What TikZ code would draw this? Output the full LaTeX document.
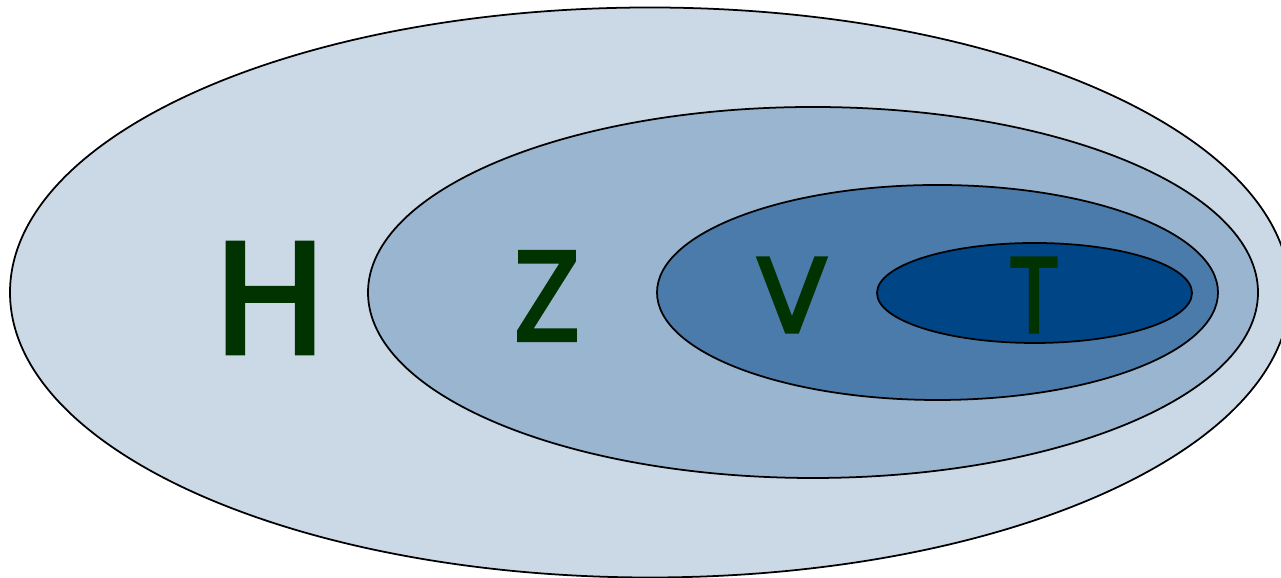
\documentclass[tikz,border=0pt]{standalone}
\usepackage{fontspec}
\setmainfont{DejaVu Sans}
\newfontfamily\lblfont[FakeBold=3]{DejaVu Sans}
\newfontfamily\lblnarrow[FakeBold=3, FakeStretch=0.78]{DejaVu Sans}
\newfontfamily\lblslim[FakeBold=3, FakeStretch=0.70]{DejaVu Sans}
\usepackage{xcolor}
\usepackage{tikz}
\usetikzlibrary{shapes.geometric, positioning}

\definecolor{setH}{HTML}{CBD9E6}
\definecolor{setZ}{HTML}{9AB5D0}
\definecolor{setV}{HTML}{4B7BAA}
\definecolor{setT}{HTML}{004586}
\definecolor{letter}{HTML}{003300}

\begin{document}
\begin{tikzpicture}[
    set/.style={draw=black, ellipse, inner sep=0pt, line width=0.5pt},
    lbl/.style={text=letter, inner sep=0pt}
]
\useasboundingbox (0,0) rectangle (12.81,5.78);

\node[set, fill=setH, minimum width=12.80cm, minimum height=5.70cm] (h) at (6.50,2.855) {};
\node[set, fill=setZ, minimum width=8.90cm, minimum height=3.71cm] (z) at (8.13,2.855) {};
\node[set, fill=setV, minimum width=5.61cm, minimum height=2.15cm] (v) at (9.375,2.855) {};
\node[set, fill=setT, minimum width=3.15cm, minimum height=1.00cm] (t) at (10.345,2.85) {};

\node[lbl, font=\lblfont\fontsize{43}{43}\selectfont] (hl) at (2.70,2.80) {H};
\node[lbl, font=\lblnarrow\fontsize{34.5}{34.5}\selectfont] (zl) at (5.47,2.82) {Z};
\node[lbl, font=\lblfont\fontsize{29}{29}\selectfont] (vl) at (7.92,2.83) {V};
\node[lbl, font=\lblslim\fontsize{29}{29}\selectfont] (tl) at (10.34,2.83) {T};
\end{tikzpicture}
\end{document}
